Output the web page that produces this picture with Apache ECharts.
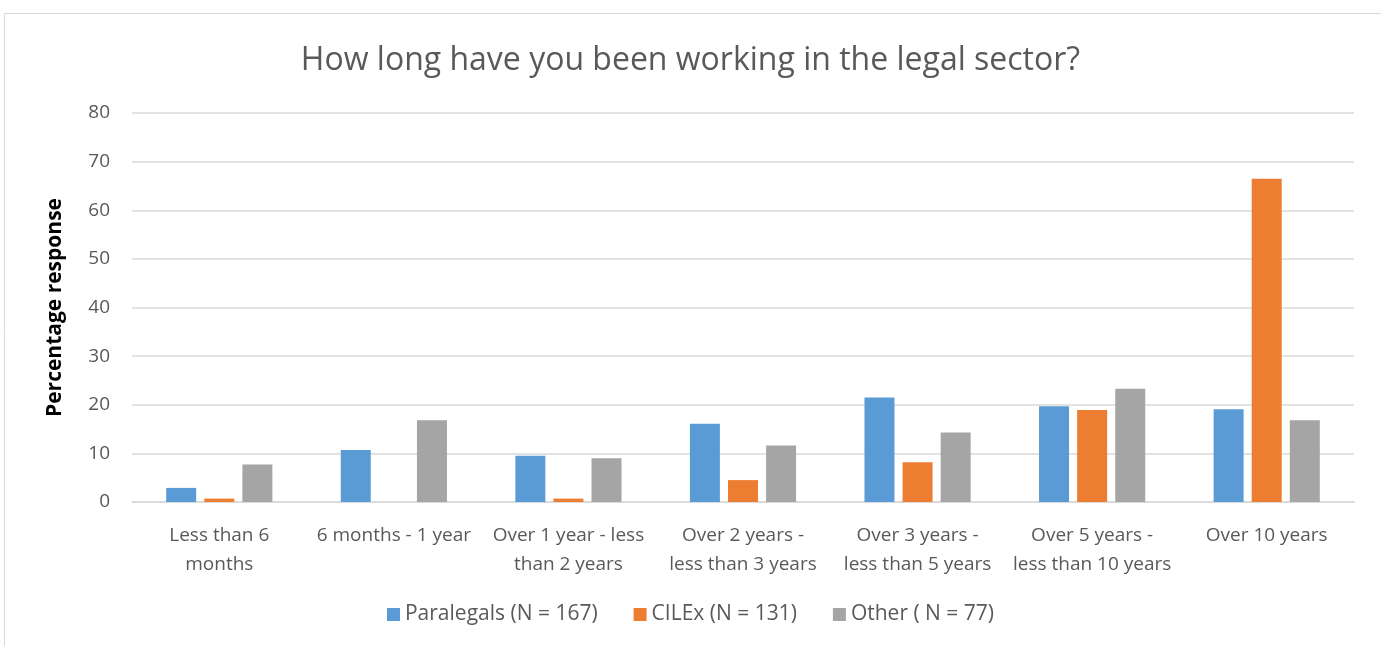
<!DOCTYPE html>
<html>
<head>
<meta charset="utf-8">
<script src="https://cdn.jsdelivr.net/npm/echarts@6/dist/echarts.min.js"></script>
<style>
	html, body { margin: 0; padding: 0; background: #fff; }
	#chart { width: 1381px; height: 646px; }
</style>
</head>
<body>
<div id="chart"></div>
<script>
var categories = ['Less than 6\nmonths', '6 months - 1 year', 'Over 1 year - less\nthan 2 years', 'Over 2 years -\nless than 3 years', 'Over 3 years -\nless than 5 years', 'Over 5 years -\nless than 10 years', 'Over 10 years'];
var paralegals = [2.9, 10.7, 9.5, 16.1, 21.5, 19.7, 19.1];
var cilex = [0.7, 0, 0.7, 4.5, 8.2, 18.9, 66.5];
var other = [7.7, 16.8, 9.0, 11.6, 14.3, 23.3, 16.8];
var seriesNames = ['Paralegals (N = 167)', 'CILEx (N = 131)', 'Other ( N = 77)'];
var colors = ['#5B9BD5', '#ED7D31', '#A5A5A5'];

var font = '"Open Sans", "Noto Sans", sans-serif';
var myChart = echarts.init(document.getElementById('chart'));

function bar(name, data, index){
	return {
		name : name,
		type : 'bar',
		data : data,
		barWidth : 30,
		barGap : '27%',
		itemStyle : {
			color : colors[index]
		}
	};
}

var option = {
	animation : false,
	color : colors,
	graphic : [
		{
			type : 'rect',
			shape : { x : 4.5, y : 13.5, width : 1400, height : 700 },
			style : { fill : 'none', stroke : '#D9D9D9', lineWidth : 1 }
		}
	],
	title : {
		text : 'How long have you been working in the legal sector?',
		left : 'center',
		top : 40,
		textStyle : {
			color : '#595959',
			fontSize : 32,
			fontWeight : 'normal',
			fontFamily : font
		}
	},
	legend : {
		data : seriesNames,
		bottom : 16,
		left : 'center',
		itemWidth : 13,
		itemHeight : 13,
		itemGap : 36,
		icon : 'rect',
		textStyle : {
			color : '#595959',
			fontSize : 21,
			fontFamily : font
		}
	},
	grid : {
		left : 132,
		right : 27,
		top : 113,
		bottom : 144
	},
	xAxis : {
		type : 'category',
		data : categories,
		axisLine : { lineStyle : { color : '#D9D9D9', width : 1.5 } },
		axisTick : { show : false },
		axisLabel : {
			color : '#595959',
			fontSize : 19,
			fontFamily : font,
			lineHeight : 29,
			margin : 19,
			interval : 0
		}
	},
	yAxis : {
		type : 'value',
		min : 0,
		max : 80,
		interval : 10,
		name : 'Percentage response',
		nameLocation : 'middle',
		nameGap : 66,
		nameTextStyle : {
			color : '#000',
			fontSize : 21,
			fontWeight : 'bold',
			fontFamily : font
		},
		axisLine : { show : false },
		axisTick : { show : false },
		axisLabel : {
			color : '#595959',
			fontSize : 19,
			fontFamily : font,
			margin : 22
		},
		splitLine : {
			lineStyle : { color : '#D9D9D9', width : 1.5 }
		}
	},
	series : [
		bar(seriesNames[0], paralegals, 0),
		bar(seriesNames[1], cilex, 1),
		bar(seriesNames[2], other, 2)
	]
};
myChart.setOption(option);
</script>
</body>
</html>
